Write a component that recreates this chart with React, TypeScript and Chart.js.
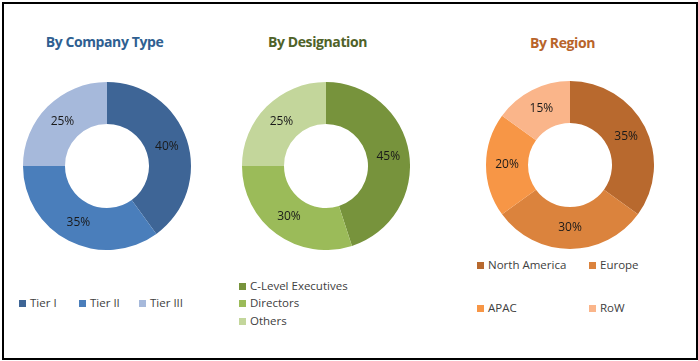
import React, { useEffect, useRef } from "react";
import { Chart, registerables } from "chart.js";

Chart.register(...registerables);

const companyLabels = ["Tier I", "Tier II", "Tier III"];
const companyValues = [40, 35, 25];
const companyColors = ["#3E6596", "#4A7EBB", "#A6B9DB"];

const designationLabels = ["C-Level Executives", "Directors", "Others"];
const designationValues = [45, 30, 25];
const designationColors = ["#77933C", "#9BBB59", "#C3D69B"];

const regionLabels = ["North America", "Europe", "APAC", "RoW"];
const regionValues = [35, 30, 20, 15];
const regionColors = ["#B8692E", "#DB833D", "#F79646", "#FAB58A"];

const FONT = "'Open Sans', 'DejaVu Sans', sans-serif";

const labelPlugin = {
  id: "sliceLabels",
  afterDatasetsDraw(chart: any) {
    const ctx = chart.ctx;
    const meta = chart.getDatasetMeta(0);
    const data = chart.data.datasets[0].data;
    ctx.save();
    ctx.font = `12px ${FONT}`;
    ctx.fillStyle = "#1a1a1a";
    ctx.textAlign = "center";
    ctx.textBaseline = "middle";
    meta.data.forEach((arc: any, i: number) => {
      const p = arc.tooltipPosition();
      ctx.fillText(`${data[i]}%`, p.x, p.y);
    });
    ctx.restore();
  },
};

function Donut(props: { labels: string[]; values: number[]; colors: string[]; cx: number; cy: number; r: number }) {
  const ref = useRef<HTMLCanvasElement | null>(null);
  useEffect(() => {
    if (!ref.current) return;
    const chart = new Chart(ref.current, {
      type: "doughnut",
      data: {
        labels: props.labels,
        datasets: [
          {
            data: props.values,
            backgroundColor: props.colors,
            borderWidth: 0,
          },
        ],
      },
      options: {
        animation: false,
        responsive: false,
        cutout: "50%",
        layout: { padding: 0 },
        plugins: { legend: { display: false }, tooltip: { enabled: false }, title: { display: false } },
      },
      plugins: [labelPlugin],
    });
    return () => chart.destroy();
  }, []);
  const size = props.r * 2;
  return (
    <canvas
      ref={ref}
      width={size}
      height={size}
      style={{ position: "absolute", left: props.cx - props.r, top: props.cy - props.r, width: size, height: size }}
    />
  );
}

function Title(props: { text: string; x: number; y: number; color: string }) {
  return (
    <div
      style={{
        position: "absolute",
        left: props.x - 100,
        top: props.y - 10,
        width: 200,
        height: 20,
        lineHeight: "20px",
        textAlign: "center",
        fontFamily: FONT,
        fontWeight: 700,
        fontSize: 14,
        letterSpacing: -0.4,
        color: props.color,
      }}
    >
      {props.text}
    </div>
  );
}

function LegendItem(props: { text: string; color: string; x: number; y: number }) {
  return (
    <div
      style={{
        position: "absolute",
        left: props.x,
        top: props.y - 8,
        height: 16,
        lineHeight: "16px",
        whiteSpace: "nowrap",
        fontFamily: FONT,
        fontSize: 11.5,
        color: "#404040",
        display: "flex",
        alignItems: "center",
      }}
    >
      <span style={{ display: "inline-block", width: 7, height: 7, background: props.color, marginRight: 4 }} />
      <span>{props.text}</span>
    </div>
  );
}

export default function App() {
  const legend1X = [19, 79, 139];
  const legend2Y = [286, 303, 321];
  const legend3X = [477, 589];
  const legend3Y = [265, 308];
  return (
    <div style={{ position: "absolute", left: 0, top: 0, width: 698, height: 361, background: "#fff", overflow: "hidden" }}>
      <div
        style={{
          position: "absolute",
          left: 2,
          top: 2,
          width: 692,
          height: 354,
          border: "2px solid #000",
          boxSizing: "content-box",
        }}
      />
      <Title text="By Company Type" x={104.5} y={42} color="#2F5F91" />
      <Title text="By Designation" x={317.5} y={42} color="#4F6228" />
      <Title text="By Region" x={562.5} y={43} color="#B8642A" />

      <Donut labels={companyLabels} values={companyValues} colors={companyColors} cx={106.5} cy={165.5} r={84} />
      <Donut labels={designationLabels} values={designationValues} colors={designationColors} cx={325.5} cy={165.5} r={84} />
      <Donut labels={regionLabels} values={regionValues} colors={regionColors} cx={570} cy={164.5} r={84} />

      {companyLabels.map((l, i) => (
        <LegendItem key={l} text={l} color={companyColors[i]} x={legend1X[i]} y={303} />
      ))}
      {designationLabels.map((l, i) => (
        <LegendItem key={l} text={l} color={designationColors[i]} x={239} y={legend2Y[i]} />
      ))}
      {regionLabels.map((l, i) => (
        <LegendItem key={l} text={l} color={regionColors[i]} x={legend3X[i % 2]} y={legend3Y[Math.floor(i / 2)]} />
      ))}
    </div>
  );
}
